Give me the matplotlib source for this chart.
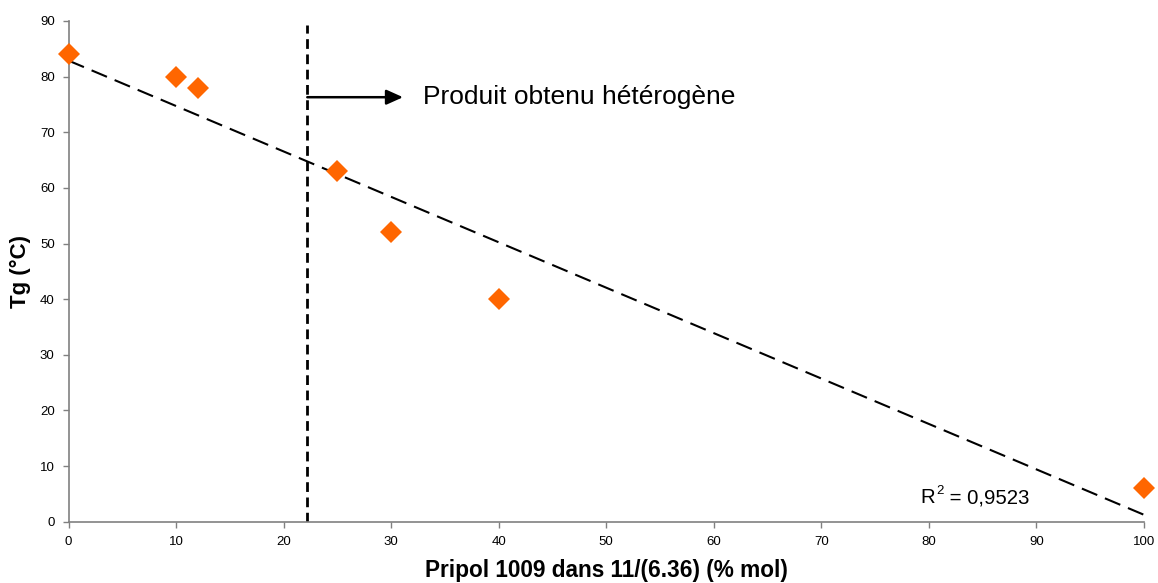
import numpy as np
import matplotlib
matplotlib.use("Agg")
import matplotlib.pyplot as plt

plt.rcParams['font.family'] = ['Liberation Sans', 'DejaVu Sans']

pripol = [0, 10, 12, 25, 30, 40, 100]
tg = [84, 80, 78, 63, 52, 40, 6]
x_ticks = list(range(0, 101, 10))
y_ticks = list(range(0, 91, 10))
limit_x = 22.2
arrow_end_x = 31.1
arrow_y = 76.3
annotation = "Produit obtenu hétérogène"

fig = plt.figure(figsize=(11.58, 5.83), dpi=100)
ax = fig.add_axes([0.0592, 0.1051, 0.9287, 0.8589])

# trend line
coef = np.polyfit(pripol, tg, 1)
xs = np.array([0, 100])
ax.plot(xs, np.polyval(coef, xs), color='black', lw=1.5, dashes=(8, 4), zorder=2)

ax.plot(pripol, tg, linestyle='none', marker='D', color='#FF6600',
        markersize=11, markeredgewidth=0, clip_on=False, zorder=3)

ax.plot([limit_x, limit_x], [0, 89.3], color='black', lw=2, dashes=(3.5, 2), zorder=2)
ax.annotate('', xy=(arrow_end_x, arrow_y), xytext=(limit_x, arrow_y),
            arrowprops=dict(arrowstyle='-|>,head_length=1.0,head_width=0.45', color='black', lw=1.8,
                            shrinkA=0, shrinkB=0))
ax.text(33.0, arrow_y, annotation, fontsize=19, va='center', ha='left')

# R² text
x_r2, y_r2 = 79.2, 4.3
t1 = ax.text(x_r2, y_r2, "R", fontsize=14.7, va='center', ha='left')
fig.canvas.draw()
bb = t1.get_window_extent()
inv = ax.transData.inverted()
x2 = inv.transform((bb.x1, bb.y0))[0]
t2 = ax.text(x2, y_r2 + 1.3, "2", fontsize=9.5, va='center', ha='left')
bb2 = t2.get_window_extent(renderer=fig.canvas.get_renderer())
x3 = inv.transform((bb2.x1, bb2.y0))[0]
ax.text(x3, y_r2, " = 0,9523", fontsize=14.7, va='center', ha='left')

ax.set_xlim(0, 100)
ax.set_ylim(0, 90)
ax.set_xticks(x_ticks)
ax.set_yticks(y_ticks)
ax.tick_params(direction='out', length=4, width=1, color='#808080', labelsize=9.5, pad=6)
for s in ['top', 'right']:
    ax.spines[s].set_visible(False)
for s in ['left', 'bottom']:
    ax.spines[s].set_color('#808080')
    ax.spines[s].set_linewidth(1.2)

ax.set_xlabel('Pripol 1009 dans 11/(6.36) (% mol)', fontsize=16.3, fontweight='bold', labelpad=8)
ax.set_ylabel('Tg (°C)', fontsize=16, fontweight='bold', labelpad=6)

fig.savefig('out.png', dpi=100)
